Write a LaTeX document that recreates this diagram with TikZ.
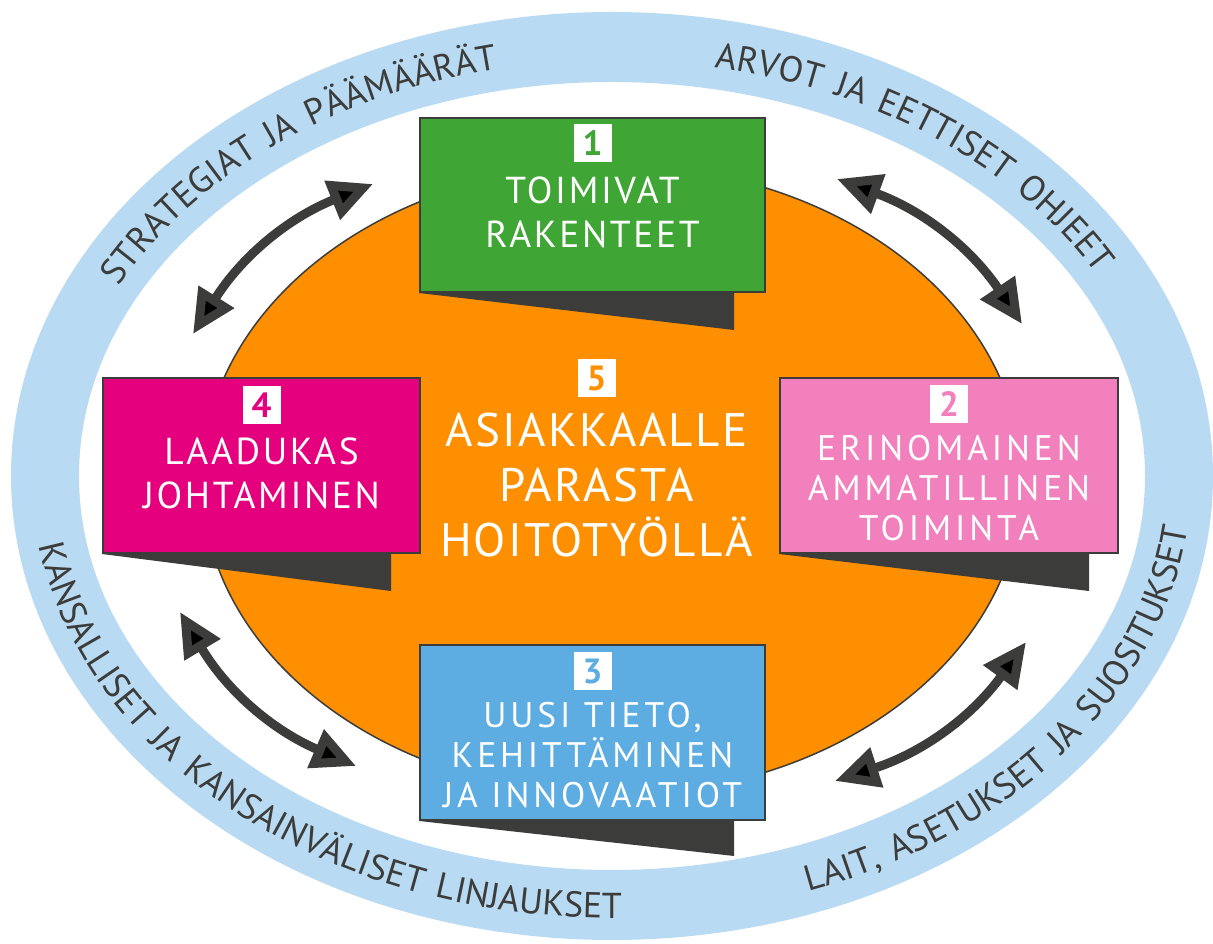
\documentclass[tikz,border=0pt]{standalone}
\usepackage{fontspec}
\setmainfont{PT Sans}
\newfontfamily\ringfont[LetterSpace=12]{PT Sans}
\newfontfamily\boxfont[LetterSpace=7]{PT Sans}
\newfontfamily\smallfont[LetterSpace=11]{PT Sans}
\newfontfamily\bigfont[LetterSpace=5]{PT Sans}
\usetikzlibrary{positioning, arrows.meta, decorations.text}
\definecolor{dgray}{HTML}{3C3C3B}
\definecolor{ringblue}{HTML}{B8DAF2}
\definecolor{orng}{HTML}{FD8F00}
\definecolor{grn}{HTML}{3FA535}
\definecolor{mgnt}{HTML}{E5007E}
\definecolor{lpink}{HTML}{F180BD}
\definecolor{lblue}{HTML}{5DADE2}
\tikzset{
    panel/.style={draw=dgray, line width=2pt, inner sep=0pt}, % the four coloured boxes
    badge/.style={fill=white, minimum size=38pt, inner sep=0pt, font=\fontsize{35}{35}\selectfont\bfseries}, % white number squares
    boxtext/.style={text=white, align=center, inner sep=0pt, font=\boxfont\fontsize{37.5}{44}\selectfont}, % text in the boxes
    smalltext/.style={boxtext, font=\smallfont\fontsize{35.5}{40}\selectfont}, % three-line boxes
    bigtext/.style={boxtext, font=\bigfont\fontsize{47}{55}\selectfont}, % text in the middle
    link/.style={<->, >={Triangle[length=44pt, width=40pt]}, line width=9pt, draw=dgray}, % double arrows
    ringtext/.style={decorate, decoration={text along path, text align=center, text color=dgray}}, % words on the ring
    }

\begin{document}
\begin{tikzpicture}[x=1pt, y=1pt]
\useasboundingbox (0,0) rectangle (1213,943);
% outer ring and centre
\fill[ringblue, even odd rule] (612,467) ellipse[x radius=601, y radius=464] (612,467) ellipse[x radius=533, y radius=394];
\filldraw[fill=orng, draw=dgray, line width=1.5pt] (612,463) ellipse[x radius=410, y radius=315];

\path[ringtext, decoration={text={|\ringfont\fontsize{36}{36}\selectfont|STRATEGIAT JA PÄÄMÄÄRÄT}}] (612,467) ++(176:554 and 416) arc[start angle=176, end angle=84, x radius=554, y radius=416];
\path[ringtext, decoration={text={|\ringfont\fontsize{36}{36}\selectfont|ARVOT JA EETTISET OHJEET}}] (612,467) ++(101:554 and 416) arc[start angle=101, end angle=1, x radius=554, y radius=416];
\path[ringtext, decoration={text={|\ringfont\fontsize{36}{36}\selectfont|KANSALLISET JA KANSAINVÄLISET LINJAUKSET}}] (612,467) ++(172:580 and 442) arc[start angle=172, end angle=284, x radius=580, y radius=442];
\path[ringtext, decoration={text={|\ringfont\fontsize{36}{36}\selectfont|LAIT, ASETUKSET JA SUOSITUKSET}}] (612,467) ++(273:580 and 442) arc[start angle=273, end angle=375, x radius=580, y radius=442];

% arrows between the boxes
\coordinate (a1) at (373,759);
\coordinate (a2) at (193,609);
\coordinate (a3) at (1022,619);
\coordinate (a4) at (837,764);
\coordinate (a5) at (180,331);
\coordinate (a6) at (356,177);
\coordinate (a7) at (835,162);
\coordinate (a8) at (1026,301);
\draw[link] (a1) to[bend right=18] (a2);
\draw[link] (a3) to[bend right=18] (a4);
\draw[link] (a5) to[bend right=18] (a6);
\draw[link] (a7) to[bend right=18] (a8);

% boxes
\node[panel, fill=grn, minimum width=345pt, minimum height=174pt] (b1) at (592.5,738) {};
\node[panel, fill=lpink, minimum width=338pt, minimum height=175pt] (b2) at (949,477.5) {};
\node[panel, fill=lblue, minimum width=345pt, minimum height=175pt] (b3) at (592.5,210.5) {};
\node[panel, fill=mgnt, minimum width=317pt, minimum height=175pt] (b4) at (261.5,477.5) {};

\fill[dgray] (b1.south west) -- ([xshift=-32pt]b1.south east) -- ([xshift=-32pt, yshift=-37pt]b1.south east) -- cycle;
\fill[dgray] (b2.south west) -- ([xshift=-30pt]b2.south east) -- ([xshift=-30pt, yshift=-37pt]b2.south east) -- cycle;
\fill[dgray] (b3.south west) -- ([xshift=-32pt]b3.south east) -- ([xshift=-32pt, yshift=-35pt]b3.south east) -- cycle;
\fill[dgray] (b4.south west) -- ([xshift=-30pt]b4.south east) -- ([xshift=-30pt, yshift=-37pt]b4.south east) -- cycle;

\node[badge, text=grn, below=7pt of b1.north] (n1) {1};
\node[badge, text=lpink, below=8pt of b2.north] (n2) {2};
\node[badge, text=lblue, below=8pt of b3.north] (n3) {3};
\node[badge, text=mgnt, below=9pt of b4.north] (n4) {4};
\node[badge, text=orng] (n5) at (596.5,564.5) {5};

\node[boxtext, below=14pt of n1] (t1) {TOIMIVAT\\RAKENTEET};
\node[smalltext, below=12pt of n2] (t2) {ERINOMAINEN\\AMMATILLINEN\\TOIMINTA};
\node[smalltext, below=12pt of n3] (t3) {UUSI TIETO,\\KEHITTÄMINEN\\JA INNOVAATIOT};
\node[boxtext, below=13pt of n4] (t4) {LAADUKAS\\JOHTAMINEN};
\node[bigtext, below=15pt of n5] (t5) {ASIAKKAALLE\\PARASTA\\HOITOTYÖLLÄ};
\end{tikzpicture}
\end{document}
